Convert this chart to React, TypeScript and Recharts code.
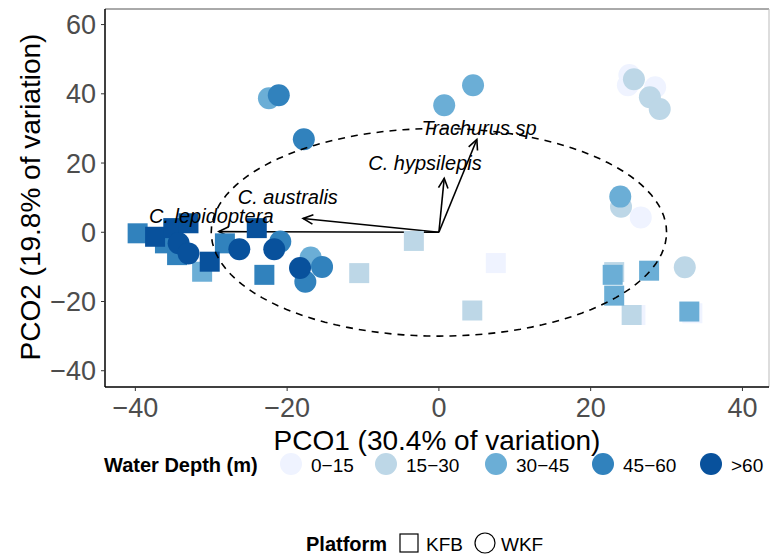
import { ScatterChart, Scatter, XAxis, YAxis, ReferenceLine } from 'recharts'

const FONT = '"Liberation Sans", Arial, Helvetica, sans-serif'

const depthLabels = ['0−15', '15−30', '30−45', '45−60', '>60']
const depthColors = ['#EFF3FF', '#BDD7E7', '#6BAED6', '#3182BD', '#08519C']

const xTicks = [-40, -20, 0, 20, 40]
const yTicks = [-40, -20, 0, 20, 40, 60]

// KFB sites (squares), one list per depth class
const kfbD0 = [
  { x: 7.5, y: -8.9 },
  { x: 25.9, y: -23.9 },
  { x: 33.4, y: -23.4 },
]
const kfbD1 = [
  { x: -3.3, y: -2.5 },
  { x: -10.5, y: -11.8 },
  { x: 4.4, y: -22.6 },
  { x: 23.1, y: -11.5 },
  { x: 25.4, y: -23.9 },
]
const kfbD2 = [
  { x: 22.9, y: -12.3 },
  { x: 27.7, y: -11.1 },
  { x: 23.1, y: -18.3 },
  { x: 33.0, y: -22.9 },
  { x: -31.2, y: -11.4 },
]
const kfbD3 = [
  { x: -39.7, y: -0.3 },
  { x: -36.1, y: -3.2 },
  { x: -34.5, y: -6.6 },
  { x: -28.2, y: -3.2 },
  { x: -23.0, y: -12.3 },
]
const kfbD4 = [
  { x: -24.0, y: 1.2 },
  { x: -30.2, y: -8.5 },
  { x: -37.4, y: -1.3 },
  { x: -35.0, y: 1.2 },
  { x: -33.0, y: 2.6 },
]

// WKF sites (circles)
const wkfD0 = [
  { x: 25.1, y: 45.4 },
  { x: 24.9, y: 42.5 },
  { x: 28.5, y: 41.9 },
  { x: 26.6, y: 4.3 },
]
const wkfD1 = [
  { x: 25.7, y: 44.2 },
  { x: 27.8, y: 39.0 },
  { x: 29.1, y: 35.6 },
  { x: 24.0, y: 7.4 },
  { x: 32.4, y: -10.1 },
]
const wkfD2 = [
  { x: -22.4, y: 38.7 },
  { x: 0.7, y: 36.7 },
  { x: 4.5, y: 42.5 },
  { x: 23.9, y: 10.3 },
  { x: -16.9, y: -7.3 },
]
const wkfD3 = [
  { x: -21.1, y: 39.6 },
  { x: -17.8, y: 26.9 },
  { x: -15.4, y: -10.0 },
  { x: -17.6, y: -14.3 },
  { x: -20.9, y: -2.7 },
]
const wkfD4 = [
  { x: -18.3, y: -10.3 },
  { x: -26.3, y: -4.9 },
  { x: -21.7, y: -4.9 },
  { x: -34.3, y: -3.2 },
  { x: -33.0, y: -6.1 },
]

const kfbByDepth = [kfbD0, kfbD1, kfbD2, kfbD3, kfbD4]
const wkfByDepth = [wkfD0, wkfD1, wkfD2, wkfD3, wkfD4]

// species vectors (tips) and where their names sit
const speciesNames = ['C. lepidoptera', 'C. australis', 'C. hypsilepis', 'Trachurus sp']
const vectorTips = [
  { x: -29.0, y: 0.2 },
  { x: -17.9, y: 4.0 },
  { x: 0.7, y: 15.6 },
  { x: 5.0, y: 26.8 },
]
const labelAnchors = [
  { x: -38.2, y: 2.8 },
  { x: -26.5, y: 8.2 },
  { x: -9.3, y: 18.0 },
  { x: -2.3, y: 28.1 },
]

// correlation circle, radius 30
const circleRadius = 30
const circlePts = Array.from({ length: 121 }, (_, i) => {
  const a = (i / 120) * Math.PI * 2
  return { x: circleRadius * Math.cos(a), y: circleRadius * Math.sin(a) }
})

const fmt = (v: number) => String(v).replace('-', '\u2212')

const Square = (p: any) => (
  <rect x={p.cx - 10} y={p.cy - 10} width={20} height={20} fill={p.fill} />
)
const Dot = (p: any) => <circle cx={p.cx} cy={p.cy} r={11} fill={p.fill} />

const Arrow = (p: any) => {
  const { x1, y1, x2, y2 } = p
  const a = Math.atan2(y2 - y1, x2 - x1)
  const len = 11
  const w = Math.PI / 7
  const h1x = x2 - len * Math.cos(a - w)
  const h1y = y2 - len * Math.sin(a - w)
  const h2x = x2 - len * Math.cos(a + w)
  const h2y = y2 - len * Math.sin(a + w)
  return (
    <g>
      <line x1={x1} y1={y1} x2={x2} y2={y2} stroke="#000" strokeWidth={1.6} />
      <polyline
        points={`${h1x},${h1y} ${x2},${y2} ${h2x},${h2y}`}
        fill="none"
        stroke="#000"
        strokeWidth={1.6}
      />
    </g>
  )
}

const SpeciesLabel = (p: any) => (
  <text
    x={p.cx}
    y={p.cy}
    fontFamily={FONT}
    fontStyle="italic"
    fontSize={20}
    fill="#000"
  >
    {p.payload.name}
  </text>
)

const labelData = labelAnchors.map((d, i) => ({ ...d, name: speciesNames[i] }))

export default function App() {
  return (
    <div
      style={{
        position: 'absolute',
        left: 0,
        top: 0,
        width: 772,
        height: 557,
        background: '#fff',
        fontFamily: FONT,
      }}
    >
      <ScatterChart
        width={772}
        height={557}
        margin={{ top: 9, right: 3, bottom: 0, left: 0 }}
      >
        <XAxis
          type="number"
          dataKey="x"
          domain={[-44, 43.5]}
          ticks={xTicks}
          allowDataOverflow
          height={170}
          tickFormatter={fmt}
          tickSize={4}
          tickMargin={7}
          tick={{ fill: '#4D4D4D', fontSize: 27, fontFamily: FONT }}
          tickLine={{ stroke: '#333' }}
          axisLine={{ stroke: '#000', strokeWidth: 1.5 }}
        />
        <YAxis
          type="number"
          dataKey="y"
          domain={[-44.7, 64.5]}
          ticks={yTicks}
          allowDataOverflow
          width={105}
          tickFormatter={fmt}
          tickSize={4}
          tickMargin={5}
          tick={{ fill: '#4D4D4D', fontSize: 27, fontFamily: FONT }}
          tickLine={{ stroke: '#333' }}
          axisLine={{ stroke: '#000', strokeWidth: 1.5 }}
        />
        <ReferenceLine y={64.5} stroke="#555" strokeWidth={1} />
        <ReferenceLine x={43.5} stroke="#bbb" strokeWidth={1} />
        {depthColors.map((c, i) => [
          <Scatter
            key={`kfb${i}`}
            data={kfbByDepth[i]}
            fill={c}
            shape={Square}
            isAnimationActive={false}
          />,
          <Scatter
            key={`wkf${i}`}
            data={wkfByDepth[i]}
            fill={c}
            shape={Dot}
            isAnimationActive={false}
          />,
        ])}
        <Scatter
          data={circlePts}
          line={{ stroke: '#000', strokeWidth: 1.6, strokeDasharray: '7 6' }}
          lineType="joint"
          shape={() => <g />}
          isAnimationActive={false}
        />
        {vectorTips.map((t, i) => (
          <ReferenceLine
            key={`v${i}`}
            segment={[{ x: 0, y: 0 }, t]}
            shape={Arrow}
          />
        ))}
        <Scatter
          data={labelData}
          shape={SpeciesLabel}
          isAnimationActive={false}
        />
      </ScatterChart>

      <svg
        width={772}
        height={557}
        style={{ position: 'absolute', left: 0, top: 0, pointerEvents: 'none' }}
        fontFamily={FONT}
      >
        <text x={437} y={440} fontSize={28} textAnchor="middle" dominantBaseline="central">
          PCO1 (30.4% of variation)
        </text>
        <text
          x={30}
          y={197}
          fontSize={28}
          textAnchor="middle"
          dominantBaseline="central"
          transform="rotate(-90 30 197)"
        >
          PCO2 (19.8% of variation)
        </text>

        <text x={104} y={465} fontSize={20} fontWeight="bold" dominantBaseline="central">
          Water Depth (m)
        </text>
        {depthLabels.map((lab, i) => {
          const cx = [291, 386, 496, 603, 711][i]
          return (
            <g key={lab}>
              <circle cx={cx} cy={464} r={11} fill={depthColors[i]} />
              <text x={cx + 20} y={465} fontSize={19} fill="#000" dominantBaseline="central">
                {lab}
              </text>
            </g>
          )
        })}

        <text x={306} y={544} fontSize={20} fontWeight="bold" dominantBaseline="central">
          Platform
        </text>
        <rect x={400} y={534} width={18} height={18} fill="none" stroke="#000" strokeWidth={1.2} />
        <text x={426} y={544} fontSize={19} dominantBaseline="central">
          KFB
        </text>
        <circle cx={485} cy={543} r={10} fill="none" stroke="#000" strokeWidth={1.2} />
        <text x={501} y={544} fontSize={19} dominantBaseline="central">
          WKF
        </text>
      </svg>
    </div>
  )
}
